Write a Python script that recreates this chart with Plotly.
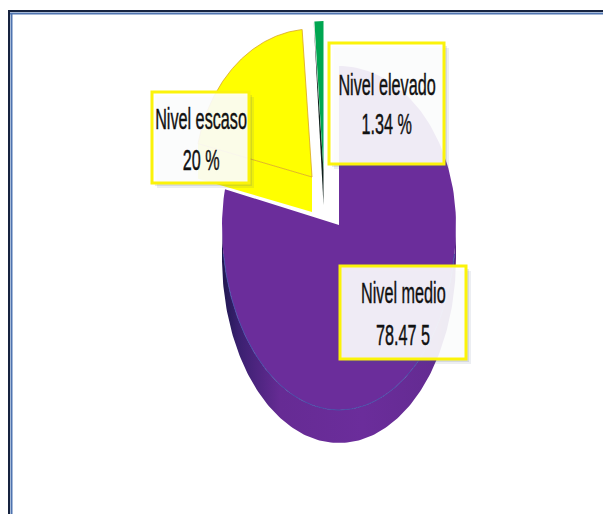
import numpy as np
import plotly.graph_objects as go

categories = ["Nivel medio", "Nivel escaso", "Nivel elevado"]
values = [78.47, 20, 1.34]
value_labels = ["78.47 5", "20 %", "1.34 %"]
colors = ["#6b2d9b", "#ffff00", "#00a651"]

W, H = 603, 514
RX = 117
fracs = np.array(values) / sum(values)
ends = np.cumsum(fracs) * 2 * np.pi
starts = ends - fracs * 2 * np.pi


def arc(cx, cy, a0, a1, ry_top, ry_bot=None):
    ry_bot = ry_top if ry_bot is None else ry_bot
    t = np.linspace(a0, a1, 160)
    c = np.cos(t)
    return cx + RX * np.sin(t), cy - np.where(c > 0, ry_top, ry_bot) * c


fig = go.Figure()


def poly(x, y, color, line=None, width=0, name="", **kw):
    fig.add_trace(go.Scatter(
        x=list(x), y=list(y), mode="lines", fill="toself", fillcolor=color,
        line=dict(color=line or color, width=width), name=name,
        hoverinfo="name", **kw))


# Nivel medio
DEPTH = 33
CX, CY = 339, 225
ax, ay = arc(CX, CY, starts[0], ends[0], 159, 185)
sx, sy = arc(CX, CY, np.pi * 0.5, np.pi * 1.5, 159, 185)
fig.add_trace(go.Scatter(
    x=list(sx) + list(sx[::-1]), y=list(sy + DEPTH) + list(sy[::-1]),
    mode="lines", fill="toself", line=dict(width=0, color="#5d2a8a"),
    fillgradient=dict(type="horizontal", colorscale=[
        [0, "#1f1850"], [0.07, "#3a2070"], [0.25, "#662b94"], [0.6, "#6b2d9b"],
        [0.9, "#642b92"], [1, "#552680"]]),
    name=categories[0], hoverinfo="name"))
poly(np.r_[CX, ax, CX], np.r_[CY, ay, CY], colors[0], name=categories[0])
bx, by = arc(CX, CY, np.pi * 0.55, np.pi * 1.45, 159, 185)
fig.add_trace(go.Scatter(x=bx, y=by, mode="lines", hoverinfo="skip",
                         line=dict(color="#4a4fa8", width=1)))

# Nivel escaso
YX, YY, YDEPTH = 312, 177, 35
ax, ay = arc(YX, YY, starts[1], ends[1], 148)
poly(np.r_[YX, YX, ax[0], ax[0]], np.r_[YY, YY + YDEPTH, ay[0] + YDEPTH, ay[0]],
     colors[1], name=categories[1])
poly(np.r_[YX, ax, YX], np.r_[YY, ay, YY], colors[1], line="#d9a520", width=0.8,
     name=categories[1])

# Nivel elevado
GX, GY, GDEPTH = 323.5, 170, 35
ax, ay = arc(GX, GY, starts[2], ends[2], 149)
poly(np.r_[GX, GX, ax[0]], np.r_[GY, GY + GDEPTH, ay[0]], "#10201c", name=categories[2])
poly(np.r_[GX, ax, GX], np.r_[GY, ay, GY], colors[2], name=categories[2])

shapes = []
boxes = [(340, 266, 466, 359), (152, 92, 249, 183), (329, 43, 444, 164)]
text_pos = [(0.29, 0.735), (0.29, 0.745), (0.345, 0.665)]
for (x0, y0, x1, y1), name, val, (f1, f2) in zip(boxes, categories, value_labels, text_pos):
    for off, op in ((5, 0.10), (3, 0.14)):
        shapes.append(dict(type="rect", x0=x0 + off, y0=y0 + off, x1=x1 + off, y1=y1 + off,
                           fillcolor=f"rgba(70,90,130,{op})", line_width=0, layer="above"))
    shapes.append(dict(type="rect", x0=x0, y0=y0, x1=x1, y1=y1,
                       fillcolor="rgba(255,255,255,0.9)",
                       line=dict(color="#fbf30a", width=3), layer="above"))
    mid = (x0 + x1) / 2
    h = y1 - y0
    for txt, fy in ((name, f1), (val, f2)):
        fig.add_annotation(x=mid, y=y0 + h * fy, text=txt, showarrow=False,
                           font=dict(family="Liberation Sans", size=30, color="#111111"))

# window frame
shapes += [
    dict(type="rect", x0=9, y0=11, x1=W + 5, y1=H + 5, line=dict(color="#16233f", width=2),
         fillcolor="rgba(0,0,0,0)", layer="above"),
    dict(type="line", x0=10, y0=13.5, x1=W, y1=13.5, line=dict(color="#4f74b0", width=2), layer="above"),
    dict(type="line", x0=11.5, y0=13, x1=11.5, y1=H, line=dict(color="#4f74b0", width=2), layer="above"),
]

fig.update_layout(
    width=W, height=H, margin=dict(l=0, r=0, t=0, b=0), showlegend=False,
    paper_bgcolor="white", plot_bgcolor="white", shapes=shapes,
    xaxis=dict(range=[0, W], visible=False, fixedrange=True),
    yaxis=dict(range=[H, 0], visible=False, fixedrange=True),
)

post = """
document.body.style.margin = '0';
document.documentElement.style.overflow = 'hidden';
function condense() {
  document.querySelectorAll('.annotation-text').forEach(function (t) {
    t.removeAttribute('textLength');
    var w = t.getComputedTextLength();
    t.setAttribute('lengthAdjust', 'spacingAndGlyphs');
    t.setAttribute('textLength', (w * 0.54).toFixed(1));
    t.style.stroke = '#111111';
    t.style.strokeWidth = '0.45px';
  });
}
condense();
setTimeout(condense, 50);
setTimeout(condense, 300);
"""
fig.write_html("out.html", config=dict(displayModeBar=False), post_script=post)
